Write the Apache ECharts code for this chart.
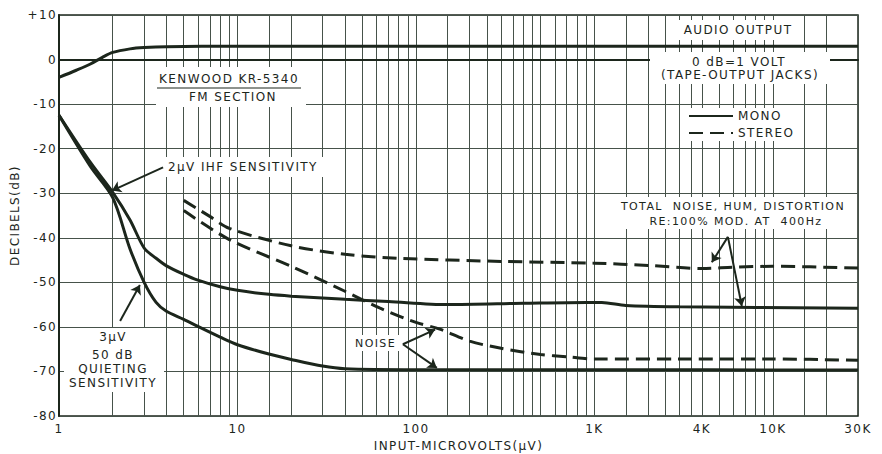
<!DOCTYPE html>
<html>
<head>
<meta charset="utf-8">
<script src="https://cdn.jsdelivr.net/npm/echarts@6/dist/echarts.min.js"></script>
<style>
  html, body { margin: 0; padding: 0; background: #fff; }
  #box { width: 882px; height: 454px; }
  #box text { letter-spacing: 1.4px; }
</style>
</head>
<body>
<div id="box"></div>
<script>
var ink = '#1c261c';
var gridInk = '#46524a';
var font = '"DejaVu Sans", sans-serif';

// input microvolts and dB readings for each curve
var audioX = [1, 1.25, 1.5, 1.75, 2, 2.5, 3, 4, 10, 100, 1000, 10000, 30000];
var audioY = [-4, -2.4, -1, 0.5, 1.6, 2.4, 2.7, 2.9, 3, 3, 3, 3, 3];

var monoThdX = [1, 1.5, 2, 2.5, 3, 3.5, 4, 5, 6, 8, 10, 15, 20, 40, 70, 150, 400, 900, 1100, 1500, 3000, 30000];
var monoThdY = [-12.5, -23.1, -29.8, -36, -42.3, -44.6, -46.3, -48.2, -49.5, -51, -51.8, -52.7, -53.1, -53.8, -54.3, -55, -54.7, -54.5, -54.5, -55.2, -55.5, -55.8];

var monoNoiseX = [1, 1.5, 2, 2.5, 3, 3.5, 4, 5, 6, 8, 10, 15, 20, 30, 40, 100, 1000, 30000];
var monoNoiseY = [-12.5, -24, -31, -42.5, -50, -54.5, -56.5, -58.3, -59.9, -62.3, -64, -66.1, -67.3, -68.8, -69.4, -69.6, -69.6, -69.7];

var stereoThdX = [5, 7, 9, 20, 40, 80, 300, 1000, 2000, 4000, 6000, 10000, 30000];
var stereoThdY = [-31.6, -35.2, -37.9, -41.8, -43.7, -44.6, -45.3, -45.7, -46.2, -46.9, -46.6, -46.4, -46.8];

var stereoNoiseX = [5, 9, 20, 40, 63, 100, 136, 200, 300, 500, 700, 1000, 3000, 10000, 30000];
var stereoNoiseY = [-33.9, -40.4, -46.4, -52, -55.8, -59, -60.5, -63.2, -64.8, -66.2, -66.7, -67.2, -67.2, -67.2, -67.5];

// graph-paper vertical rulings and printed axis labels
var gridX = [1, 2, 3, 4, 5, 6, 7, 8, 9,
  10, 15, 20, 30, 40, 50, 60, 70, 80, 90,
  100, 150, 200, 250, 300, 350, 400, 450, 500, 600, 700, 800, 900,
  1000, 1500, 2000, 2500, 3000, 3500, 4000, 5000, 6000, 7000, 8000, 9000,
  10000, 15000, 20000, 30000];
var labelX = [1, 10, 100, 1000, 4000, 10000, 30000];

function pairs(xs, ys) {
  return xs.map(function (x, i) { return [x, ys[i]]; });
}

function arrow(x1, y1, x2, y2) {
  return [{ coord: [x1, y1] }, { coord: [x2, y2] }];
}

function note(txt, x, y, size, align) {
  return {
    type: 'text', z: 2, x: x, y: y,
    style: { text: txt, fill: ink, font: size + 'px ' + font, align: align || 'left', verticalAlign: 'middle' }
  };
}

function blank(x, y, w, h) {
  return { type: 'rect', z: 1, shape: { x: x, y: y, width: w, height: h }, style: { fill: '#fff' } };
}

var mychart = echarts.init(document.getElementById('box'), null, { renderer: 'svg' });

var solid = { color: ink, width: 3, type: 'solid' };
var dashed = { color: ink, width: 3, type: [14, 7] };

function curve(name, xs, ys, style) {
  return {
    name: name,
    type: 'line',
    symbol: 'none',
    smooth: 0.3,
    lineStyle: style,
    itemStyle: { color: ink },
    data: pairs(xs, ys),
    z: 3
  };
}

var option = {
  animation: false,
  backgroundColor: '#fff',
  grid: {
    left: 59,
    right: 24,
    top: 15,
    bottom: 38,
    outerBoundsMode: 'none',
    show: true,
    borderColor: ink,
    borderWidth: 1.5
  },
  legend: {
    data: ['MONO', 'STEREO'],
    orient: 'vertical',
    left: 684,
    top: 108,
    itemWidth: 44,
    itemHeight: 10,
    itemGap: 5,
    padding: [2, 6, 2, 4],
    backgroundColor: '#fff',
    itemStyle: { opacity: 0 },
    lineStyle: { width: 2 },
    textStyle: { color: ink, fontFamily: font, fontSize: 12 },
    selectedMode: false
  },
  xAxis: {
    type: 'log',
    logBase: 10,
    min: 1,
    max: 30000,
    name: 'INPUT-MICROVOLTS(\u00b5V)',
    nameLocation: 'middle',
    nameGap: 23,
    nameTextStyle: { color: ink, fontFamily: font, fontSize: 12 },
    axisLine: { lineStyle: { color: ink, width: 2 } },
    axisTick: { show: false, customValues: gridX },
    axisLabel: {
      customValues: labelX,
      color: ink,
      fontFamily: font,
      fontSize: 12,
      margin: 7,
      formatter: function (v) { return v >= 1000 ? (v / 1000) + 'K' : String(v); }
    },
    splitLine: { show: true, lineStyle: { color: gridInk, width: 1 } }
  },
  yAxis: {
    type: 'value',
    min: -80,
    max: 10,
    interval: 10,
    name: 'DECIBELS(dB)',
    nameLocation: 'middle',
    nameRotate: 90,
    nameGap: 31,
    nameTextStyle: { color: ink, fontFamily: font, fontSize: 12 },
    axisLine: { show: true, lineStyle: { color: ink, width: 2 } },
    axisTick: { show: false },
    axisLabel: {
      color: ink,
      fontFamily: font,
      fontSize: 12,
      margin: 2,
      formatter: function (v) { return v > 0 ? '+' + v : String(v); }
    },
    splitLine: { show: true, lineStyle: { color: gridInk, width: 1 } }
  },
  series: [
    curve('MONO', audioX, audioY, solid),
    curve('MONO', monoThdX, monoThdY, solid),
    curve('MONO', monoNoiseX, monoNoiseY, solid),
    curve('STEREO', stereoThdX, stereoThdY, dashed),
    curve('STEREO', stereoNoiseX, stereoNoiseY, dashed),
    {
      name: 'notes',
      type: 'line',
      data: [],
      z: 4,
      markLine: {
        silent: true,
        symbol: ['none', 'arrow'],
        symbolSize: 9,
        label: { show: false },
        lineStyle: { color: ink, width: 2, type: 'solid' },
        data: [
          arrow(3.83, -24.2, 1.98, -29.4),
          arrow(2.2, -58.7, 2.84, -50.6),
          arrow(5600, -39.8, 4550, -45.5),
          arrow(5600, -39.8, 6700, -55.3),
          arrow(84.5, -63.9, 128, -60.6),
          arrow(84.5, -63.9, 131, -69.2)
        ]
      }
    }
  ],
  graphic: [
    blank(156, 67, 150, 40),
    note('KENWOOD KR-5340', 229, 79, 12, 'center'),
    { type: 'line', z: 2, shape: { x1: 157, y1: 88, x2: 301, y2: 88 }, style: { stroke: ink, lineWidth: 1.2 } },
    note('FM SECTION', 233, 97, 12, 'center'),

    blank(674, 20, 130, 20),
    note('AUDIO OUTPUT', 738, 30, 12, 'center'),
    blank(650, 52, 180, 32),
    note('0 dB=1 VOLT', 739, 62, 12, 'center'),
    note('(TAPE-OUTPUT JACKS)', 740, 75, 12, 'center'),

    blank(165, 157, 172, 20),
    note('2\u00b5V IHF SENSITIVITY', 168, 167, 12),

    blank(64, 328, 100, 64),
    note('3\u00b5V', 113, 337, 12, 'center'),
    note('50 dB', 113, 355, 12, 'center'),
    note('QUIETING', 113, 369, 12, 'center'),
    note('SENSITIVITY', 113, 383, 12, 'center'),

    blank(612, 197, 240, 32),
    note('TOTAL  NOISE, HUM, DISTORTION', 733, 206, 11, 'center'),
    note('RE:100% MOD. AT  400Hz', 736, 221, 11, 'center'),

    blank(352, 335, 50, 16),
    note('NOISE', 355, 343, 11)
  ]
};

mychart.setOption(option);
</script>
</body>
</html>
